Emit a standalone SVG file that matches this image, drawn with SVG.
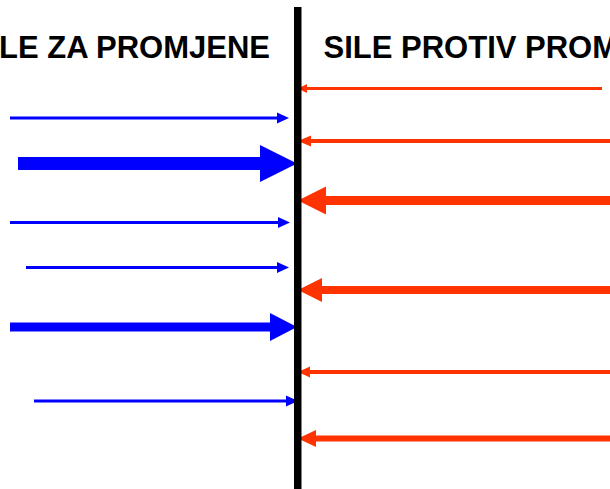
<svg xmlns="http://www.w3.org/2000/svg" width="610" height="489" viewBox="0 0 610 489">
  <style>
    .title { font-family: "Liberation Sans", Arial, sans-serif; font-weight: bold; font-size: 31px; fill: #000000; }
    .pro { fill: #0000FF; stroke: none; }
    .con { fill: #FF3300; stroke: none; }
    .barrier { fill: #000000; }
  </style>
  <rect x="0" y="0" width="610" height="489" fill="#FFFFFF"/>
  <g id="label-for">
    <text class="title" x="270" y="58" text-anchor="end">SILE ZA PROMJENE</text>
  </g>
  <g id="label-against">
    <text class="title" x="323.5" y="58">SILE PROTIV PROMJENA</text>
  </g>
  <g id="connectors">
    <polygon class="pro" points="10,116.5 277,116.5 277,112.5 289,118 277,123.5 277,119.5 10,119.5"/>
    <polygon class="pro" points="18,157 260,157 260,145 297,163.5 260,182 260,170 18,170"/>
    <polygon class="pro" points="10,221 278,221 278,217 290,222.5 278,228 278,224 10,224"/>
    <polygon class="pro" points="26,266 277,266 277,262 289,267.5 277,273 277,269 26,269"/>
    <polygon class="pro" points="10,322.5 270,322.5 270,313 297,327 270,341 270,331.5 10,331.5"/>
    <polygon class="pro" points="34,399.5 286,399.5 286,395.5 298,401 286,406.5 286,402.5 34,402.5"/>
    <polygon class="con" points="298,88.5 307,84 307,87 602,87 602,90 307,90 307,93"/>
    <polygon class="con" points="298,141 311,135.5 311,139 610,139 610,143 311,143 311,146.5"/>
    <polygon class="con" points="298,200.5 326,186.5 326,196 610,196 610,205 326,205 326,214.5"/>
    <polygon class="con" points="298,290 322,278 322,286 610,286 610,294 322,294 322,302"/>
    <polygon class="con" points="298,372 310,366.5 310,370 610,370 610,374 310,374 310,377.5"/>
    <polygon class="con" points="298,438.5 316,430 316,435.5 610,435.5 610,441.5 316,441.5 316,447"/>
  </g>
  <g id="barrier">
    <rect class="barrier" x="294" y="7" width="7.5" height="482"/>
  </g>
</svg>
